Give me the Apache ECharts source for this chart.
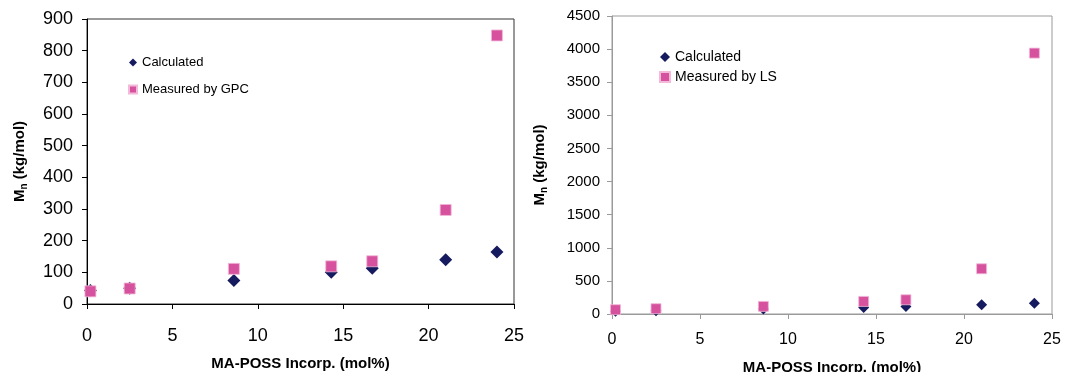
<!DOCTYPE html>
<html>
<head>
<meta charset="utf-8">
<script src="https://cdn.jsdelivr.net/npm/echarts@6/dist/echarts.min.js"></script>
<style>
html,body{margin:0;padding:0;background:#fff;}
#chart{width:1065px;height:372px;}
</style>
</head>
<body>
<div id="chart"></div>
<script>
// Data
const xValues = [0.2, 2.5, 8.6, 14.3, 16.7, 21.0, 24.0];           // MA-POSS incorp. (mol%)
const calculated = [43, 50, 74, 100, 113, 140, 164];               // kg/mol
const measuredGPC = [40, 49, 111, 119, 135, 297, 848];             // kg/mol
const measuredLS = [65, 80, 115, 190, 215, 683, 3940];             // kg/mol
const xTicks = [0, 5, 10, 15, 20, 25];
const yTicksLeft = [0, 100, 200, 300, 400, 500, 600, 700, 800, 900];
const yTicksRight = [0, 500, 1000, 1500, 2000, 2500, 3000, 3500, 4000, 4500];

const FONT = "'Liberation Sans', Arial, sans-serif";
const NAVY = '#161a5e';
const PINK = '#d6529e';

function pairs(ys){ return xValues.map((x,i)=>[x, ys[i]]); }

const yName = '{m|M}{s|n}{m| (kg/mol)}';
function nameStyle(){
  return {
    fontFamily: FONT, fontWeight: 'bold', fontSize: 15, color: '#000',
    rich: {
      m: {fontFamily: FONT, fontWeight: 'bold', fontSize: 15, color: '#000', lineHeight: 18},
      s: {fontFamily: FONT, fontWeight: 'bold', fontSize: 10, color: '#000', verticalAlign: 'bottom', lineHeight: 14}
    }
  };
}

function xAxis(gridIndex, color, fs, margin, gap){
  return {
    type: 'value', gridIndex: gridIndex,
    min: xTicks[0], max: xTicks[xTicks.length-1], interval: xTicks[1]-xTicks[0],
    name: 'MA-POSS Incorp. (mol%)', nameLocation: 'middle', nameGap: gap, nameMoveOverlap: false,
    nameTextStyle: {fontFamily: FONT, fontWeight: 'bold', fontSize: 15, color: '#000'},
    axisLine: {show: true, onZero: false, lineStyle: {color: color, width: 1}},
    axisTick: {show: true, inside: false, length: 5, lineStyle: {color: color}},
    axisLabel: {fontFamily: FONT, fontSize: fs, color: '#000', margin: margin, formatter: v => String(v)},
    splitLine: {show: false}
  };
}
function yAxis(gridIndex, ticks, color, fs, margin, gap){
  return {
    type: 'value', gridIndex: gridIndex,
    min: ticks[0], max: ticks[ticks.length-1], interval: ticks[1]-ticks[0],
    name: yName, nameLocation: 'middle', nameGap: gap, nameRotate: 90, nameMoveOverlap: false,
    nameTextStyle: nameStyle(),
    axisLine: {show: true, lineStyle: {color: color, width: 1}},
    axisTick: {show: true, inside: false, length: 5, lineStyle: {color: color}},
    axisLabel: {fontFamily: FONT, fontSize: fs, color: '#000', margin: margin, formatter: v => String(v)},
    splitLine: {show: false}
  };
}

const chart = echarts.init(document.getElementById('chart'), null, {renderer: 'canvas'});
chart.setOption({
  animation: false,
  backgroundColor: '#fff',
  grid: [
    {left: 87, top: 19, width: 427, height: 285, outerBoundsMode: 'none', containLabel: false,
      show: true, borderColor: '#333', borderWidth: 1, backgroundColor: 'transparent'},
    {left: 612, top: 16, width: 440, height: 298, outerBoundsMode: 'none', containLabel: false,
      show: true, borderColor: '#9a9a9a', borderWidth: 1, backgroundColor: 'transparent'}
  ],
  xAxis: [
    xAxis(0, '#000', 18, 23, 52),
    xAxis(1, '#9a9a9a', 16, 18, 46)
  ],
  yAxis: [
    yAxis(0, yTicksLeft, '#000', 18, 14, 58),
    yAxis(1, yTicksRight, '#9a9a9a', 15, 12, 63)
  ],
  legend: [
    {
      orient: 'vertical', left: 128, top: 56, itemGap: 14, padding: 0,
      itemWidth: 8, itemHeight: 8,
      textStyle: {fontFamily: FONT, fontSize: 13, color: '#000'},
      data: [
        {name: 'Calculated', icon: 'diamond', itemStyle: {color: NAVY, opacity: 1}},
        {name: 'Measured by GPC', icon: 'rect', itemStyle: {color: PINK, opacity: 1}}
      ]
    },
    {
      orient: 'vertical', left: 659, top: 50, itemGap: 6, padding: 0,
      itemWidth: 10, itemHeight: 10,
      textStyle: {fontFamily: FONT, fontSize: 14, color: '#000'},
      data: [
        {name: 'Calculated', icon: 'diamond', itemStyle: {color: NAVY, opacity: 1}},
        {name: 'Measured by LS', icon: 'rect', itemStyle: {color: PINK, opacity: 1}}
      ]
    }
  ],
  series: [
    {name: 'Calculated', type: 'scatter', xAxisIndex: 0, yAxisIndex: 0, data: pairs(calculated),
      symbol: 'diamond', symbolSize: 13, itemStyle: {color: NAVY, opacity: 1}, z: 2},
    {name: 'Measured by GPC', type: 'scatter', xAxisIndex: 0, yAxisIndex: 0, data: pairs(measuredGPC),
      symbol: 'rect', symbolSize: 11, itemStyle: {color: PINK, opacity: 1, borderColor: '#f2b9d8', borderWidth: 0.8}, z: 3},
    {name: 'Calculated', type: 'scatter', xAxisIndex: 1, yAxisIndex: 1, data: pairs(calculated),
      symbol: 'diamond', symbolSize: 11, itemStyle: {color: NAVY, opacity: 1}, z: 2},
    {name: 'Measured by LS', type: 'scatter', xAxisIndex: 1, yAxisIndex: 1, data: pairs(measuredLS),
      symbol: 'rect', symbolSize: 10, itemStyle: {color: PINK, opacity: 1, borderColor: '#f2b9d8', borderWidth: 0.8}, z: 3}
  ]
});
</script>
</body>
</html>
